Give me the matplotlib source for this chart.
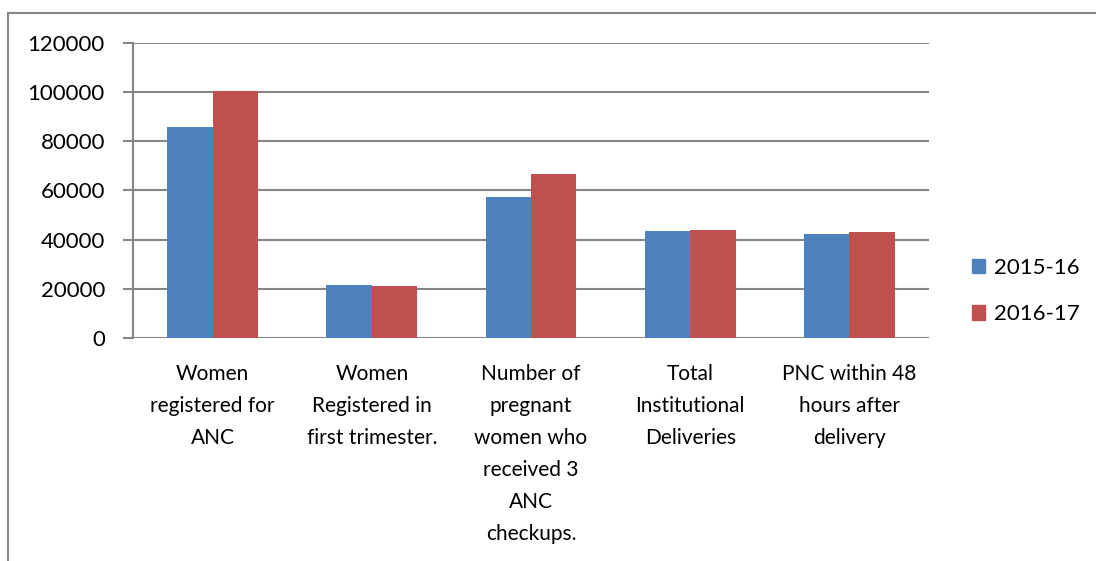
import matplotlib
matplotlib.use("Agg")
import matplotlib.pyplot as plt
import numpy as np
from matplotlib.lines import Line2D
from matplotlib.patches import Patch

categories = [
    "Women\nregistered for\nANC",
    "Women\nRegistered in\nfirst trimester.",
    "Number of\npregnant\nwomen who\nreceived 3\nANC\ncheckups.",
    "Total\nInstitutional\nDeliveries",
    "PNC within 48\nhours after\ndelivery",
]
series_names = ["2015-16", "2016-17"]
values_1516 = [85800, 21500, 57200, 43500, 42200]
values_1617 = [100400, 21300, 66600, 44000, 43100]
colors = ["#4F81BD", "#C0504D"]
yticks = [0, 20000, 40000, 60000, 80000, 100000, 120000]

plt.rcParams["font.family"] = ["Lato", "DejaVu Sans"]
plt.rcParams["font.size"] = 16

fig = plt.figure(figsize=(10.96, 5.61), dpi=100)
W, H = 1096, 561
ax = fig.add_axes([133 / W, 1 - 338 / H, (929 - 133) / W, (338 - 43) / H])

x = np.arange(len(categories))
width = 0.2857
ax.bar(x - width / 2, values_1516, width, color=colors[0], zorder=3)
ax.bar(x + width / 2, values_1617, width, color=colors[1], zorder=3)

ax.set_xlim(-0.5, len(categories) - 0.5)
ax.set_ylim(0, 120000)
ax.set_yticks(yticks)
ax.set_yticklabels([str(v) for v in yticks])
ax.yaxis.grid(True, color="#868686", linewidth=1.5, zorder=0)
ax.set_xticks(x)
ax.set_xticklabels(categories, linespacing=1.76, fontsize=15)
ax.tick_params(axis="x", length=0, pad=18.5, colors="black")
ax.tick_params(axis="y", length=7.2, width=1.5, color="#868686", pad=13)
for s in ["top", "right", "bottom"]:
    ax.spines[s].set_visible(False)
ax.spines["left"].set_color("#868686")
ax.spines["left"].set_linewidth(1.5)

handles = [Patch(color=c) for c in colors]
fig.legend(handles, series_names, loc="center left", bbox_to_anchor=(952 / W, 1 - 291 / H),
           frameon=False, handlelength=0.6, handleheight=0.6, handletextpad=0.4,
           labelspacing=1.2)

# outer chart border (top and left visible)
fig.add_artist(Line2D([8 / W, 1], [1 - 13 / H, 1 - 13 / H], color="#868686", lw=1.5))
fig.add_artist(Line2D([8 / W, 8 / W], [0, 1 - 13 / H], color="#868686", lw=1.5))

fig.savefig("out.png", dpi=100)
